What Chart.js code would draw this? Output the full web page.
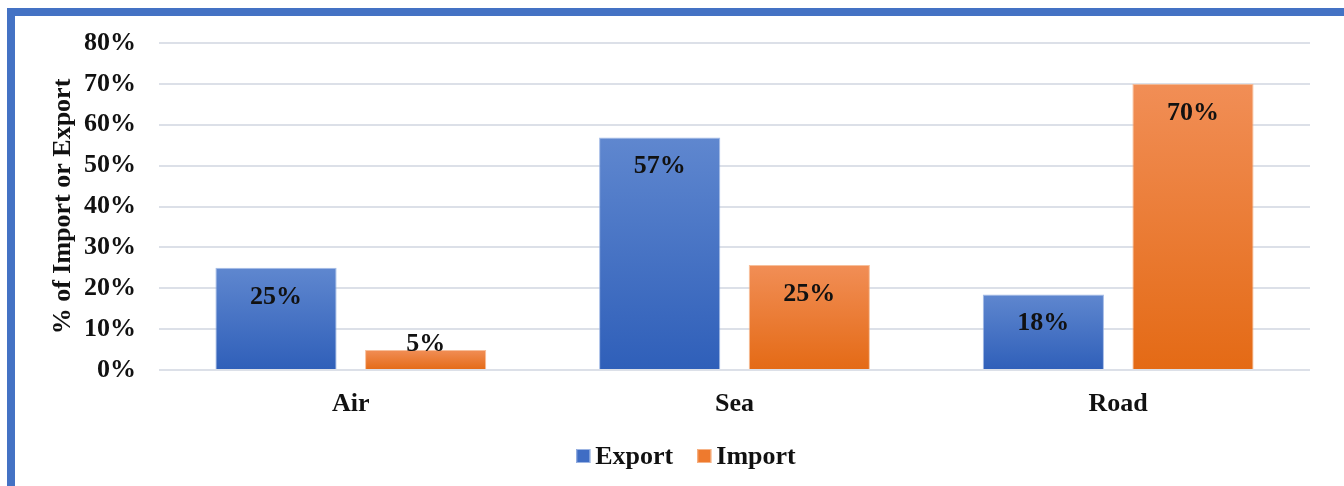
<!DOCTYPE html>
<html>
<head>
<meta charset="utf-8">
<script src="https://cdn.jsdelivr.net/npm/chart.js@4.4.1/dist/chart.umd.min.js"></script>
<style>
  html, body { margin: 0; padding: 0; background: #fff; }
  #wrap { position: relative; width: 1344px; height: 486px; overflow: hidden; }
  #frame { position: absolute; left: 7px; top: 8px; width: 1400px; height: 600px;
           border-top: 8px solid #4472C4; border-left: 8px solid #4472C4; }
  #c { position: absolute; left: 0; top: 0; }
</style>
</head>
<body>
<div id="wrap">
  <div id="frame"></div>
  <canvas id="c" width="1344" height="486"></canvas>
</div>
<script>
const categories = ['Air', 'Sea', 'Road'];
const exportVals = [25, 56.9, 18.5];
const importVals = [4.9, 25.7, 70];
const exportLabels = ['25%', '57%', '18%'];
const importLabels = ['5%', '25%', '70%'];
const yTicks = [0, 10, 20, 30, 40, 50, 60, 70, 80];

const FONT = "'Liberation Serif', 'Times New Roman', serif";
const legendFill = ['#3F6DC4', '#EE7A2E'];
const legendEdge = ['#9DB5E3', '#F6B488'];

function barGradient(top, bottom) {
  return function (ctx) {
    const chart = ctx.chart;
    if (!chart.chartArea || ctx.raw == null) return bottom;
    const y = chart.scales.y;
    const y0 = y.getPixelForValue(ctx.raw);
    const y1 = y.getPixelForValue(0);
    const g = chart.ctx.createLinearGradient(0, y0, 0, y1);
    g.addColorStop(0, top);
    g.addColorStop(1, bottom);
    return g;
  };
}

const labelPlugin = {
  id: 'barLabels',
  afterDatasetsDraw(chart) {
    const ctx = chart.ctx;
    const texts = [exportLabels, importLabels];
    ctx.save();
    ctx.font = 'bold 26px ' + FONT;
    ctx.fillStyle = '#111';
    ctx.textAlign = 'center';
    ctx.textBaseline = 'middle';
    chart.data.datasets.forEach((ds, i) => {
      chart.getDatasetMeta(i).data.forEach((bar, j) => {
        const y = Math.min(bar.y + 29, bar.base - 25);
        ctx.fillText(texts[i][j], bar.x, y);
      });
    });
    ctx.restore();
  }
};

// legend drawn by hand so the box/text spacing is like the original
const legendPlugin = {
  id: 'myLegend',
  afterDraw(chart) {
    const ctx = chart.ctx;
    ctx.save();
    ctx.font = 'bold 26px ' + FONT;
    ctx.textBaseline = 'middle';
    ctx.textAlign = 'left';
    const box = 14, gap = 5, spacing = 24;
    const items = chart.data.datasets.map(ds => ds.label);
    const widths = items.map(t => box + gap + ctx.measureText(t).width);
    const total = widths.reduce((a, b) => a + b, 0) + spacing * (items.length - 1);
    let x = chart.width / 2 + 14 - total / 2;
    const y = 456;
    items.forEach((t, i) => {
      ctx.fillStyle = legendFill[i];
      ctx.fillRect(x, y - box / 2, box, box);
      ctx.strokeStyle = legendEdge[i];
      ctx.lineWidth = 1;
      ctx.strokeRect(x + 0.5, y - box / 2 + 0.5, box - 1, box - 1);
      ctx.fillStyle = '#111';
      ctx.fillText(t, x + box + gap, y + 1);
      x += widths[i] + spacing;
    });
    ctx.restore();
  }
};

new Chart(document.getElementById('c'), {
  type: 'bar',
  data: {
    labels: categories,
    datasets: [{
      label: 'Export',
      data: exportVals,
      backgroundColor: barGradient('#5F87CF', '#2F5FB9'),
      borderColor: 'rgba(140,170,225,0.8)',
      borderWidth: 1
    }, {
      label: 'Import',
      data: importVals,
      backgroundColor: barGradient('#F18E56', '#E46A15'),
      borderColor: 'rgba(245,175,130,0.8)',
      borderWidth: 1
    }]
  },
  options: {
    responsive: false,
    animation: false,
    maintainAspectRatio: false,
    categoryPercentage: 0.78,
    barPercentage: 0.81,
    layout: { padding: { left: 48, right: 34, top: 43, bottom: 55 } },
    plugins: {
      legend: { display: false },
      tooltip: { enabled: false }
    },
    scales: {
      x: {
        grid: { display: false },
        border: { display: false },
        ticks: {
          color: '#111',
          padding: 11,
          font: { family: FONT, size: 26, weight: 'bold' }
        },
        afterFit(scale) { scale.height = 61; }
      },
      y: {
        min: 0,
        max: 80,
        afterBuildTicks(scale) { scale.ticks = yTicks.map(v => ({ value: v })); },
        grid: { color: '#DCE0E8', lineWidth: 2, drawTicks: false },
        border: { display: false },
        ticks: {
          color: '#111',
          padding: 23,
          font: { family: FONT, size: 26, weight: 'bold' },
          callback: v => v + '%'
        },
        title: {
          display: true,
          text: '% of Import or Export',
          color: '#111',
          padding: { top: 0, bottom: 0 },
          font: { family: FONT, size: 26, weight: 'bold' }
        },
        afterFit(scale) { scale.width = 111; }
      }
    }
  },
  plugins: [labelPlugin, legendPlugin]
});
</script>
</body>
</html>
